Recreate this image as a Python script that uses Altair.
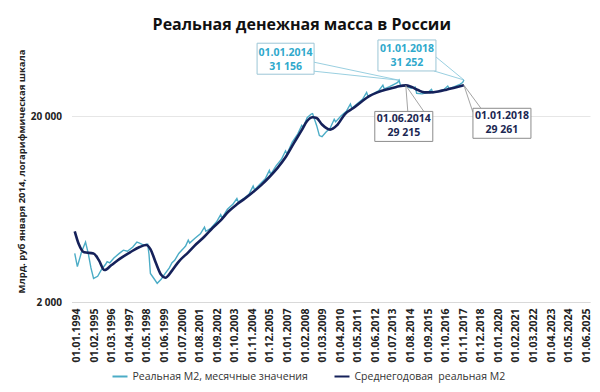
import altair as alt
import pandas as pd

# ---------------- data ----------------
monthly_dates = [
    "1994-01", "1994-03", "1994-06", "1994-09", "1994-11", "1995-01", "1995-03", "1995-06",
    "1995-09", "1995-12", "1996-01", "1996-03", "1996-06", "1996-10", "1997-01", "1997-04",
    "1997-08", "1997-11", "1998-01", "1998-04", "1998-07", "1998-08", "1998-09", "1998-12",
    "1999-02", "1999-05", "1999-08", "1999-11", "2000-01", "2000-03", "2000-06", "2000-09",
    "2000-11", "2001-01", "2001-02", "2001-06", "2001-10", "2002-01", "2002-02", "2002-06",
    "2002-10", "2003-01", "2003-02", "2003-06", "2003-10", "2004-01", "2004-02", "2004-06",
    "2004-10", "2005-01", "2005-02", "2005-06", "2005-10", "2006-01", "2006-02", "2006-06",
    "2006-10", "2007-01", "2007-02", "2007-06", "2007-10", "2008-01", "2008-02", "2008-05",
    "2008-08", "2008-09", "2008-10", "2008-12", "2009-02", "2009-04", "2009-07", "2009-10",
    "2010-01", "2010-02", "2010-06", "2010-10", "2011-01", "2011-02", "2011-06", "2011-10",
    "2012-01", "2012-02", "2012-06", "2012-10", "2013-01", "2013-02", "2013-06", "2013-10",
    "2013-12", "2014-01", "2014-02", "2014-06", "2014-10", "2015-01", "2015-02", "2015-06",
    "2015-10", "2016-01", "2016-02", "2016-06", "2016-10", "2017-01", "2017-02", "2017-06",
    "2017-10", "2017-12", "2018-01",
]
monthly_values = [
    3650, 3100, 3700, 4200, 3650, 3050, 2680, 2750,
    3000, 3200, 3300, 3250, 3450, 3650, 3800, 3750,
    3950, 4200, 4150, 4050, 4100, 3600, 2850, 2650,
    2520, 2650, 2850, 3050, 3250, 3350, 3650, 3850,
    4000, 4300, 4150, 4400, 4650, 5050, 4800, 5000,
    5400, 5900, 5650, 6300, 6700, 7200, 6900, 7200,
    7600, 8400, 8000, 8600, 9200, 10200, 9700, 10800,
    11700, 13000, 12500, 14500, 16000, 17800, 17400, 19600,
    20500, 20600, 19600, 17800, 15700, 15500, 16400, 17200,
    19200, 18600, 20000, 21200, 23200, 22000, 23300, 24600,
    26800, 25500, 26400, 27400, 29300, 28000, 28800, 29800,
    30300, 31156, 29300, 29000, 28200, 28600, 26500, 26300,
    26700, 27800, 26700, 27100, 27700, 29000, 28100, 28800,
    29600, 30300, 31252,
]

avg_dates = [
    "1994-01", "1994-04", "1994-08", "1995-03", "1995-07", "1995-11", "1996-04", "1996-10",
    "1997-06", "1998-01", "1998-06", "1998-09", "1999-01", "1999-05", "1999-08", "2000-01",
    "2000-06", "2001-01", "2001-07", "2002-01", "2002-07", "2003-01", "2003-07", "2004-01",
    "2004-07", "2005-01", "2005-07", "2006-01", "2006-07", "2007-01", "2007-07", "2008-01",
    "2008-05", "2008-09", "2008-12", "2009-04", "2009-10", "2010-03", "2010-09", "2011-03",
    "2011-09", "2012-03", "2012-09", "2013-03", "2013-09", "2014-01", "2014-06", "2014-10",
    "2015-03", "2015-08", "2015-12", "2016-06", "2016-12", "2017-06", "2018-01",
]
avg_values = [
    4800, 4100, 3700, 3650, 3350, 2970, 3150, 3400,
    3700, 3950, 4050, 3850, 3250, 2800, 2700, 2950,
    3300, 3700, 4100, 4500, 5000, 5500, 6150, 6700,
    7200, 7800, 8500, 9400, 10500, 12000, 14200, 16800,
    18800, 19700, 19500, 18000, 16900, 17800, 20500, 22000,
    23800, 25600, 26800, 27700, 28400, 28900, 29215, 28700,
    27600, 26800, 26800, 27100, 27700, 28400, 29261,
]

series_names = ["Реальная М2, месячные значения", "Среднегодовая\u00a0 реальная М2"]
series_colors = ["#4BACC6", "#15215A"]

x_tick_labels = [
    "01.01.1994", "01.02.1995", "01.03.1996", "01.04.1997", "01.05.1998", "01.06.1999",
    "01.07.2000", "01.08.2001", "01.09.2002", "01.10.2003", "01.11.2004", "01.12.2005",
    "01.01.2007", "01.02.2008", "01.03.2009", "01.04.2010", "01.05.2011", "01.06.2012",
    "01.07.2013", "01.08.2014", "01.09.2015", "01.10.2016", "01.11.2017", "01.12.2018",
    "01.01.2020", "01.02.2021", "01.03.2022", "01.04.2023", "01.05.2024", "01.06.2025",
]
y_ticks = [2000, 20000]

# annotations: (date, value, series index)
ann_dates = ["2014-01", "2018-01", "2014-06", "2018-01"]
ann_values = [31156, 31252, 29215, 29261]
ann_series = [0, 0, 1, 1]

# ---------------- build tables ----------------
def to_iso(d):
    return d + "-01"

df = pd.concat([
    pd.DataFrame({"date": [to_iso(d) for d in monthly_dates], "value": monthly_values,
                  "series": series_names[0]}),
    pd.DataFrame({"date": [to_iso(d) for d in avg_dates], "value": avg_values,
                  "series": series_names[1]}),
], ignore_index=True)

tick_ms = [int(pd.Timestamp(f"{s[6:]}-{s[3:5]}-{s[0:2]}", tz="UTC").value // 10**6)
           for s in x_tick_labels]
x_domain = [int(pd.Timestamp("1993-10-20", tz="UTC").value // 10**6),
            int(pd.Timestamp("2025-10-10", tz="UTC").value // 10**6)]

FONT = "Open Sans"

x_scale = alt.Scale(type="utc", domain=x_domain)
y_scale = alt.Scale(type="log", domain=[2000, 45290], nice=False)

x_axis = alt.Axis(
    values=tick_ms,
    labelExpr="utcFormat(datum.value, '%d.%m.%Y')",
    labelAngle=-90,
    labelAlign="right",
    labelBaseline="middle",
    labelFont=FONT,
    labelFontSize=10.5,
    labelFontWeight="bold",
    labelColor="#222222",
    labelPadding=6,
    labelOffset=2,
    labelOverlap=False,
    labelSeparation=0,
    labelFlush=False,
    labelBound=False,
    ticks=False,
    grid=False,
    domainColor="#D9D9D9",
    title=None,
)
y_axis = alt.Axis(
    values=y_ticks,
    labelExpr="replace(format(datum.value, ','), ',', ' ')",
    labelFont=FONT,
    labelFontSize=10,
    labelFontWeight="bold",
    labelColor="#222222",
    labelPadding=10,
    labelOverlap=False,
    ticks=False,
    domain=False,
    grid=True,
    gridColor="#E6E6E6",
    title="Млрд. руб января 2014, логарифмическая шкала",
    titleFont=FONT,
    titleFontSize=9.5,
    titleFontWeight="bold",
    titleColor="#222222",
    titleAngle=-90,
    titleX=-50,
    titleY=121,
    titleAlign="center",
    titleBaseline="middle",
)

x_enc = alt.X("date:T", scale=x_scale, axis=x_axis)
y_enc = alt.Y("value:Q", scale=y_scale, axis=y_axis)

color_enc = alt.Color(
    "series:N",
    scale=alt.Scale(domain=series_names, range=series_colors),
    legend=alt.Legend(
        title=None,
        orient="none",
        legendX=40,
        legendY=318,
        direction="horizontal",
        symbolType="stroke",
        symbolSize=225,
        symbolStrokeWidth=2,
        labelFont=FONT,
        labelFontSize=10.5,
        labelColor="#333333",
        columnPadding=22,
        labelLimit=400,
    ),
)

base = alt.Chart(df).encode(x=x_enc, y=y_enc, color=color_enc)
light_line = base.transform_filter(alt.datum.series == series_names[0]).mark_line(
    strokeWidth=1.4)
navy_line = base.transform_filter(alt.datum.series == series_names[1]).mark_line(
    strokeWidth=2.6, interpolate="monotone")

# callout geometry (pixel offsets from the annotated point)
box_geom = [
    dict(l=-142, r=-85, t=-37, b=-6, tx=-113.5, ty1=-27, ty2=-13,
         leaders=[(-85, -18), (-85, -9)]),
    dict(l=-86, r=-28, t=-40, b=-9, tx=-57, ty1=-31, ty2=-17,
         leaders=[(-28, -23), (-30, -9)]),
    dict(l=-31, r=27, t=26, b=56, tx=-2, ty1=34, ty2=48,
         leaders=[(2, 26), (18, 26)]),
    dict(l=9, r=67, t=23, b=53, tx=38, ty1=31, ty2=45,
         leaders=[(9, 27), (17, 23)]),
]
text_colors = ["#2FA9CC", "#1B2752"]
box_strokes = ["#9CC6D6", "#8C8C8C"]
leader_colors = ["#7FC3D8", "#8C8C8C"]

layers = [light_line, navy_line]
for d, v, s, g in zip(ann_dates, ann_values, ann_series, box_geom):
    adf = pd.DataFrame({
        "date": [to_iso(d)],
        "value": [v],
        "l1": [f"01.{d[5:7]}.{d[0:4]}"],
        "l2": [f"{v:,}".replace(",", " ")],
    })
    abase = alt.Chart(adf)
    for (ox, oy) in g["leaders"]:
        layers.append(abase.mark_rule(color=leader_colors[s], strokeWidth=0.8,
                                      x2Offset=ox, y2Offset=oy).encode(
            x=x_enc, y=y_enc, x2=alt.X2("date:T"), y2=alt.Y2("value:Q")))
    layers.append(abase.mark_rect(fill="white", stroke=box_strokes[s], strokeWidth=1,
                                  xOffset=g["l"], x2Offset=g["r"],
                                  yOffset=g["t"], y2Offset=g["b"]).encode(
        x=x_enc, y=y_enc, x2=alt.X2("date:T"), y2=alt.Y2("value:Q")))
    for fld, ty in (("l1", g["ty1"]), ("l2", g["ty2"])):
        layers.append(abase.mark_text(font=FONT, fontSize=10.5, fontWeight="bold",
                                      color=text_colors[s], dx=g["tx"], dy=ty,
                                      align="center", baseline="middle").encode(
            x=x_enc, y=y_enc, text=f"{fld}:N"))

chart = alt.layer(*layers).properties(
    width=518.5,
    height=252,
    background="white",
    autosize=alt.AutoSizeParams(type="none"),
    padding={"left": 63.5, "top": 42, "right": 2, "bottom": 82},
    title=alt.TitleParams(
        "Реальная денежная масса в России",
        font=FONT, fontSize=16, fontWeight="bold", color="#111111",
        anchor="middle", dx=-29, offset=6,
    ),
).configure_view(stroke=None, strokeWidth=0)

chart.save("out.html", embed_options={"renderer": "svg", "actions": False})
